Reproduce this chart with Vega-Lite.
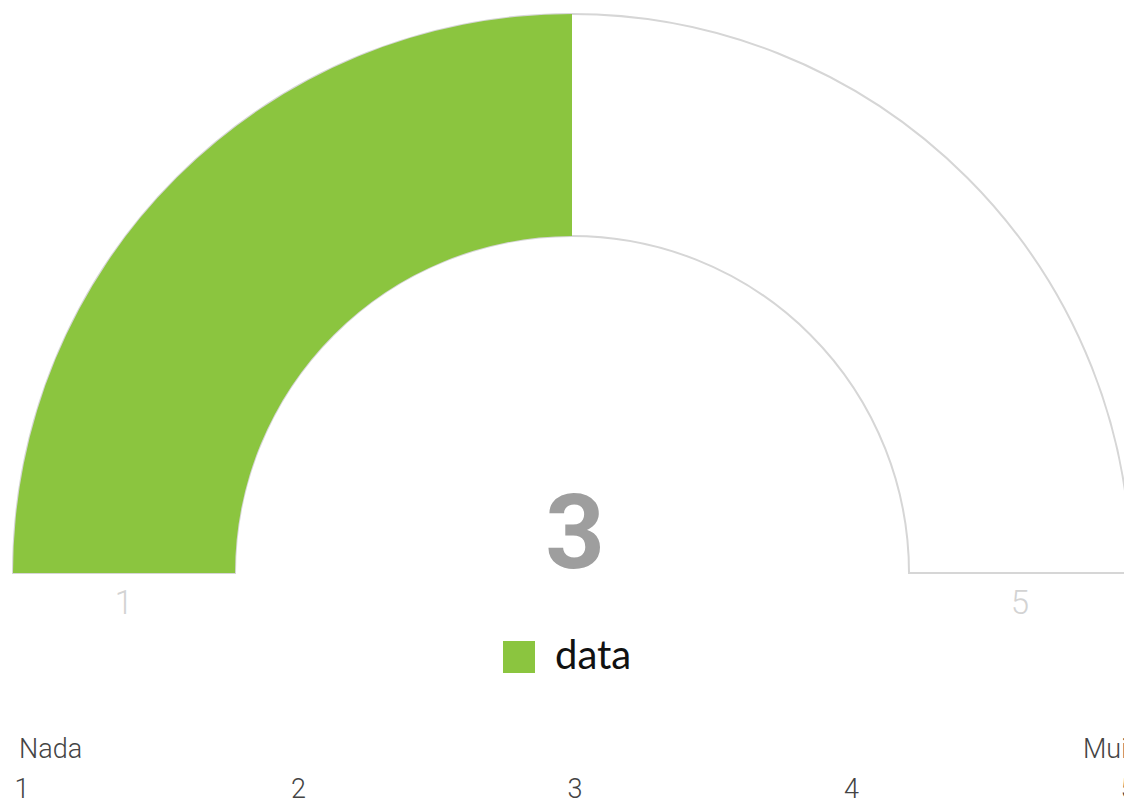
{
  "$schema": "https://vega.github.io/schema/vega-lite/v6.json",
  "width": 1144,
  "height": 1146,
  "autosize": {"type": "none"},
  "padding": 0,
  "background": "white",
  "config": {
    "view": {"stroke": null},
    "legend": {
      "orient": "none",
      "legendX": 499,
      "legendY": 637,
      "padding": 0,
      "symbolType": "square",
      "symbolSize": 1024,
      "symbolStrokeWidth": 0,
      "symbolOpacity": 1,
      "labelFontSize": 40,
      "labelFont": "Lato",
      "labelColor": "#111111",
      "labelOffset": 16
    }
  },
  "datasets": {
    "track": [{"series": "background", "start": 1, "end": 5}],
    "gauge": [{"series": "data", "start": 1, "end": 3, "value": 3}],
    "ends": [{"v": 1}, {"v": 5}],
    "words": [
      {"word": "Nada", "pos": 1, "line": "label"},
      {"word": "Muito", "pos": 5, "line": "label"}
    ],
    "numbers": [
      {"num": "1", "pos": 1, "line": "number"},
      {"num": "2", "pos": 2, "line": "number"},
      {"num": "3", "pos": 3, "line": "number"},
      {"num": "4", "pos": 4, "line": "number"},
      {"num": "5", "pos": 5, "line": "number"}
    ]
  },
  "layer": [
    {
      "data": {"name": "track"},
      "mark": {"type": "arc", "outerRadius": 559, "innerRadius": 337, "fill": "#ffffff", "stroke": "#d6d6d6", "strokeWidth": 2},
      "encoding": {
        "theta": {"field": "start", "type": "quantitative", "scale": {"domain": [1, 5], "range": [-1.5707963, 1.5707963]}},
        "theta2": {"field": "end"}
      }
    },
    {
      "data": {"name": "gauge"},
      "mark": {"type": "arc", "outerRadius": 559, "innerRadius": 337},
      "encoding": {
        "theta": {"field": "start", "type": "quantitative"},
        "theta2": {"field": "end"},
        "color": {"field": "series", "type": "nominal", "scale": {"range": ["#8BC53F"]}, "legend": {"title": null}}
      }
    },
    {
      "data": {"name": "gauge"},
      "mark": {"type": "text", "font": "Roboto", "fontWeight": "bold", "fontSize": 104, "fill": "#9e9e9e", "baseline": "alphabetic", "align": "center", "dx": 3, "dy": -5},
      "encoding": {"text": {"field": "value", "type": "quantitative"}}
    },
    {
      "data": {"name": "ends"},
      "mark": {"type": "text", "radius": 448, "font": "Roboto", "fontWeight": 300, "fontSize": 33, "fill": "#d3d3d3", "baseline": "middle", "align": "center", "dy": 31},
      "encoding": {
        "theta": {"field": "v", "type": "quantitative", "stack": null},
        "text": {"field": "v", "type": "quantitative"}
      }
    },
    {
      "data": {"name": "words"},
      "transform": [{"filter": "datum.word === 'Nada'"}],
      "mark": {"type": "text", "font": "Roboto", "fontWeight": 300, "fontSize": 27, "fill": "#444444", "baseline": "middle", "align": "left", "dx": -3},
      "encoding": {
        "x": {"field": "pos", "type": "quantitative", "scale": {"domain": [1, 5], "range": [22, 1128]}, "axis": null},
        "y": {"field": "line", "type": "nominal", "scale": {"type": "point", "domain": ["label", "number"], "range": [750, 790], "padding": 0}, "axis": null},
        "text": {"field": "word"}
      }
    },
    {
      "data": {"name": "words"},
      "transform": [{"filter": "datum.word === 'Muito'"}],
      "mark": {"type": "text", "font": "Roboto", "fontWeight": 300, "fontSize": 27, "fill": "#444444", "baseline": "middle", "align": "left", "dx": -45},
      "encoding": {
        "x": {"field": "pos", "type": "quantitative"},
        "y": {"field": "line", "type": "nominal"},
        "text": {"field": "word"}
      }
    },
    {
      "data": {"name": "numbers"},
      "mark": {"type": "text", "font": "Roboto", "fontWeight": 300, "fontSize": 27, "fill": "#444444", "baseline": "middle", "align": "center"},
      "encoding": {
        "x": {"field": "pos", "type": "quantitative"},
        "y": {"field": "line", "type": "nominal"},
        "text": {"field": "num"}
      }
    }
  ]
}
